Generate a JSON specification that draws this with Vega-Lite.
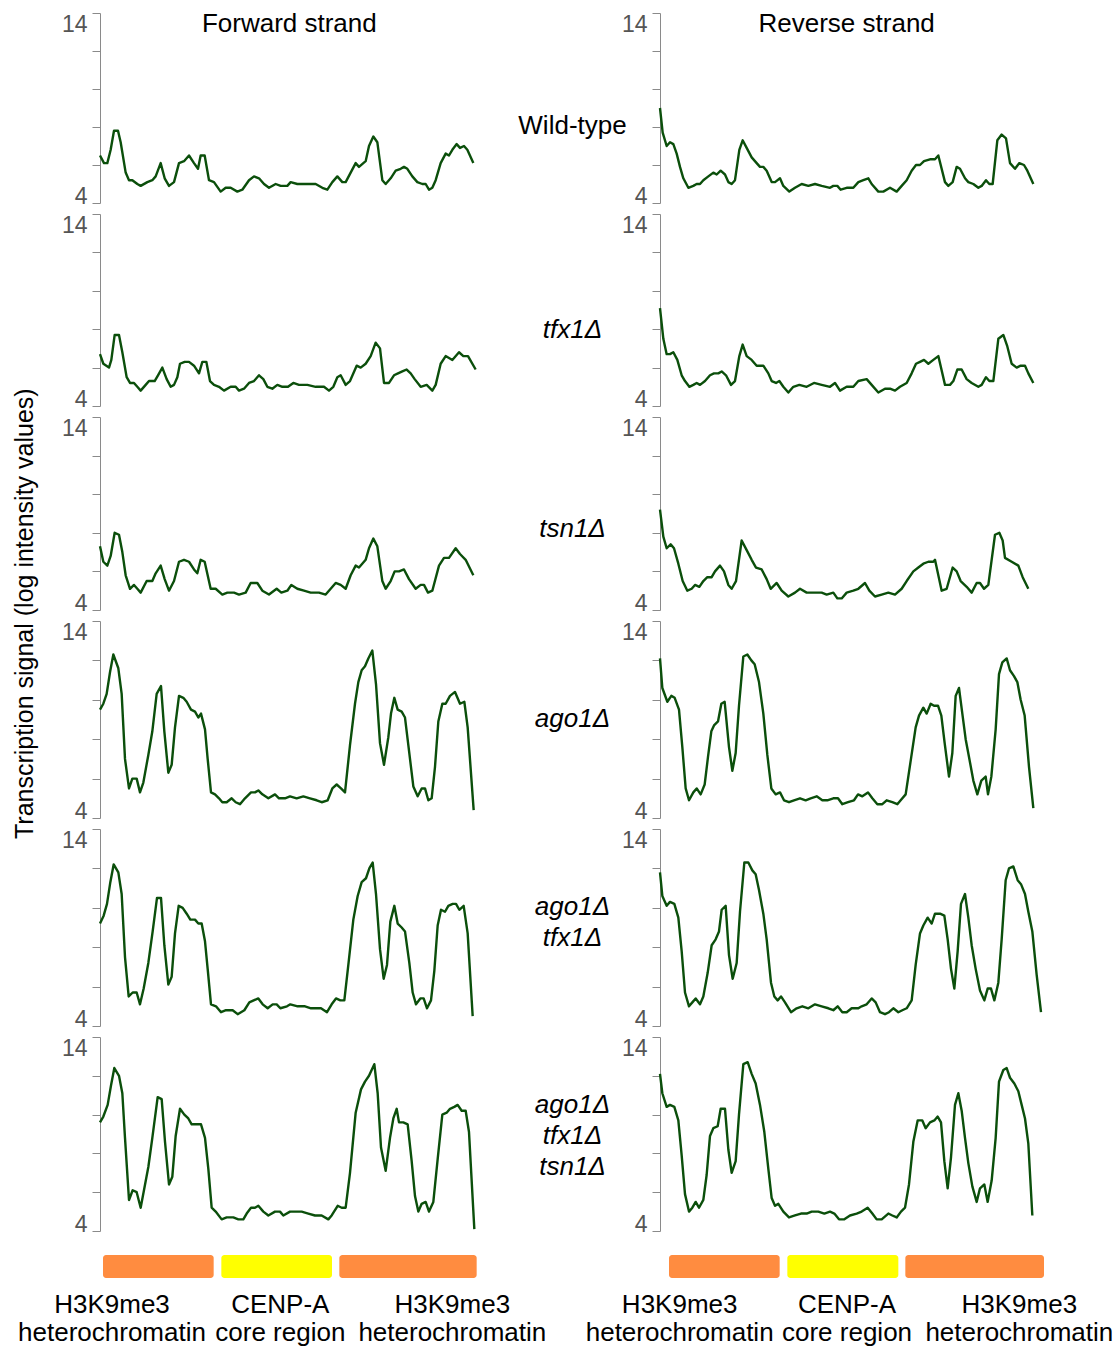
{
  "$schema": "https://vega.github.io/schema/vega-lite/v6.json",
  "background": "white",
  "padding": {"left": 13, "top": 11, "right": 0, "bottom": 0},
  "title": {"text": "Transcription signal (log intensity values)", "orient": "left", "anchor": "middle", "fontSize": 25, "fontWeight": "normal", "color": "black", "offset": -20, "dx": 65},
  "datasets": {
    "F1": [{"x":0,"y":6.5},{"x":12,"y":6.1},{"x":22,"y":6.1},{"x":32,"y":6.8},{"x":42,"y":7.8},{"x":54,"y":7.8},{"x":62,"y":7.2},{"x":77,"y":5.6},{"x":87,"y":5.2},{"x":97,"y":5.2},{"x":112,"y":5.0},{"x":122,"y":4.9},{"x":142,"y":5.1},{"x":157,"y":5.2},{"x":167,"y":5.4},{"x":182,"y":6.1},{"x":194,"y":5.3},{"x":207,"y":4.9},{"x":222,"y":5.1},{"x":237,"y":6.1},{"x":252,"y":6.2},{"x":267,"y":6.5},{"x":282,"y":6.1},{"x":294,"y":5.8},{"x":302,"y":6.5},{"x":314,"y":6.5},{"x":327,"y":5.2},{"x":342,"y":5.1},{"x":362,"y":4.6},{"x":377,"y":4.8},{"x":392,"y":4.8},{"x":412,"y":4.6},{"x":427,"y":4.7},{"x":447,"y":5.2},{"x":462,"y":5.4},{"x":477,"y":5.3},{"x":492,"y":5.0},{"x":507,"y":4.8},{"x":527,"y":5.0},{"x":542,"y":4.9},{"x":562,"y":4.9},{"x":572,"y":5.1},{"x":592,"y":5.0},{"x":622,"y":5.0},{"x":647,"y":5.0},{"x":667,"y":4.8},{"x":682,"y":4.7},{"x":697,"y":5.1},{"x":712,"y":5.4},{"x":727,"y":5.1},{"x":737,"y":5.1},{"x":752,"y":5.6},{"x":767,"y":6.1},{"x":777,"y":5.9},{"x":797,"y":6.2},{"x":807,"y":7.0},{"x":820,"y":7.5},{"x":832,"y":7.2},{"x":847,"y":5.2},{"x":857,"y":5.0},{"x":872,"y":5.3},{"x":887,"y":5.7},{"x":902,"y":5.8},{"x":912,"y":5.9},{"x":922,"y":5.8},{"x":937,"y":5.4},{"x":952,"y":5.1},{"x":967,"y":5.0},{"x":977,"y":5.0},{"x":987,"y":4.7},{"x":997,"y":4.8},{"x":1007,"y":5.2},{"x":1022,"y":6.1},{"x":1037,"y":6.6},{"x":1047,"y":6.5},{"x":1057,"y":6.8},{"x":1070,"y":7.1},{"x":1080,"y":6.9},{"x":1092,"y":7.0},{"x":1102,"y":6.8},{"x":1120,"y":6.1}],
    "R1": [{"x":0,"y":9.0},{"x":8,"y":7.7},{"x":20,"y":7.0},{"x":30,"y":7.2},{"x":40,"y":7.1},{"x":50,"y":6.6},{"x":60,"y":5.9},{"x":70,"y":5.3},{"x":85,"y":4.8},{"x":100,"y":4.9},{"x":110,"y":5.0},{"x":120,"y":5.0},{"x":130,"y":5.2},{"x":145,"y":5.4},{"x":160,"y":5.6},{"x":170,"y":5.5},{"x":182,"y":5.7},{"x":195,"y":5.5},{"x":205,"y":5.1},{"x":215,"y":5.0},{"x":225,"y":5.2},{"x":238,"y":6.8},{"x":248,"y":7.3},{"x":260,"y":6.9},{"x":275,"y":6.4},{"x":290,"y":6.1},{"x":300,"y":5.9},{"x":310,"y":5.9},{"x":320,"y":5.7},{"x":335,"y":5.1},{"x":345,"y":5.1},{"x":360,"y":5.3},{"x":370,"y":4.9},{"x":388,"y":4.6},{"x":405,"y":4.8},{"x":425,"y":5.0},{"x":445,"y":4.9},{"x":465,"y":5.0},{"x":485,"y":4.9},{"x":510,"y":4.8},{"x":520,"y":4.9},{"x":532,"y":4.9},{"x":542,"y":4.7},{"x":560,"y":4.8},{"x":580,"y":4.8},{"x":595,"y":5.1},{"x":610,"y":5.2},{"x":625,"y":5.3},{"x":635,"y":5.0},{"x":655,"y":4.6},{"x":670,"y":4.6},{"x":690,"y":4.8},{"x":710,"y":4.6},{"x":725,"y":4.9},{"x":740,"y":5.2},{"x":755,"y":5.7},{"x":768,"y":6.0},{"x":780,"y":6.0},{"x":792,"y":6.2},{"x":810,"y":6.3},{"x":825,"y":6.3},{"x":835,"y":6.5},{"x":855,"y":5.1},{"x":865,"y":4.9},{"x":878,"y":5.1},{"x":890,"y":5.9},{"x":900,"y":5.8},{"x":915,"y":5.3},{"x":925,"y":5.1},{"x":940,"y":5.0},{"x":955,"y":4.8},{"x":965,"y":4.9},{"x":978,"y":5.2},{"x":988,"y":5.0},{"x":998,"y":5.0},{"x":1012,"y":7.3},{"x":1025,"y":7.6},{"x":1038,"y":7.4},{"x":1050,"y":6.1},{"x":1065,"y":5.8},{"x":1078,"y":6.1},{"x":1092,"y":6.0},{"x":1102,"y":5.7},{"x":1120,"y":5.0}],
    "F2": [{"x":0,"y":6.7},{"x":10,"y":6.2},{"x":27,"y":6.0},{"x":34,"y":6.4},{"x":44,"y":7.7},{"x":57,"y":7.7},{"x":67,"y":6.8},{"x":80,"y":5.5},{"x":90,"y":5.2},{"x":102,"y":5.2},{"x":112,"y":5.0},{"x":122,"y":4.8},{"x":137,"y":5.1},{"x":147,"y":5.3},{"x":164,"y":5.3},{"x":174,"y":5.6},{"x":187,"y":6.0},{"x":200,"y":5.4},{"x":212,"y":5.0},{"x":222,"y":5.1},{"x":232,"y":5.5},{"x":240,"y":6.2},{"x":254,"y":6.3},{"x":267,"y":6.3},{"x":282,"y":6.1},{"x":297,"y":5.7},{"x":307,"y":6.3},{"x":319,"y":6.3},{"x":330,"y":5.3},{"x":342,"y":5.1},{"x":357,"y":5.0},{"x":372,"y":4.8},{"x":392,"y":5.0},{"x":407,"y":5.0},{"x":417,"y":4.8},{"x":432,"y":4.9},{"x":447,"y":5.2},{"x":462,"y":5.3},{"x":477,"y":5.6},{"x":490,"y":5.4},{"x":502,"y":5.0},{"x":517,"y":4.9},{"x":532,"y":5.1},{"x":547,"y":5.0},{"x":564,"y":5.0},{"x":580,"y":5.2},{"x":597,"y":5.1},{"x":622,"y":5.1},{"x":647,"y":5.0},{"x":672,"y":5.0},{"x":687,"y":4.8},{"x":700,"y":5.0},{"x":712,"y":5.5},{"x":722,"y":5.6},{"x":737,"y":5.1},{"x":750,"y":5.3},{"x":770,"y":6.1},{"x":782,"y":6.0},{"x":797,"y":6.2},{"x":812,"y":6.6},{"x":827,"y":7.3},{"x":840,"y":7.0},{"x":852,"y":5.2},{"x":867,"y":5.2},{"x":882,"y":5.6},{"x":894,"y":5.7},{"x":907,"y":5.8},{"x":920,"y":5.9},{"x":932,"y":5.7},{"x":944,"y":5.4},{"x":962,"y":5.0},{"x":980,"y":5.1},{"x":997,"y":4.8},{"x":1007,"y":5.1},{"x":1022,"y":6.2},{"x":1037,"y":6.6},{"x":1057,"y":6.4},{"x":1077,"y":6.8},{"x":1090,"y":6.6},{"x":1104,"y":6.6},{"x":1127,"y":5.9}],
    "R2": [{"x":0,"y":9.1},{"x":10,"y":7.5},{"x":20,"y":6.7},{"x":30,"y":6.7},{"x":40,"y":6.8},{"x":52,"y":6.4},{"x":65,"y":5.6},{"x":75,"y":5.3},{"x":88,"y":5.0},{"x":100,"y":5.1},{"x":110,"y":5.2},{"x":120,"y":5.1},{"x":135,"y":5.3},{"x":150,"y":5.6},{"x":162,"y":5.7},{"x":175,"y":5.7},{"x":185,"y":5.8},{"x":198,"y":5.6},{"x":213,"y":5.1},{"x":225,"y":5.3},{"x":238,"y":6.6},{"x":248,"y":7.2},{"x":260,"y":6.6},{"x":275,"y":6.4},{"x":290,"y":6.1},{"x":310,"y":6.1},{"x":325,"y":5.7},{"x":335,"y":5.3},{"x":348,"y":5.2},{"x":358,"y":5.3},{"x":370,"y":5.0},{"x":385,"y":4.7},{"x":400,"y":5.0},{"x":418,"y":5.1},{"x":440,"y":5.0},{"x":462,"y":5.2},{"x":485,"y":5.1},{"x":510,"y":5.0},{"x":525,"y":5.2},{"x":540,"y":4.8},{"x":560,"y":5.0},{"x":580,"y":5.0},{"x":595,"y":5.3},{"x":620,"y":5.4},{"x":635,"y":5.1},{"x":655,"y":4.7},{"x":675,"y":4.9},{"x":690,"y":4.9},{"x":705,"y":4.8},{"x":720,"y":5.0},{"x":740,"y":5.2},{"x":755,"y":5.7},{"x":768,"y":6.2},{"x":780,"y":6.3},{"x":792,"y":6.4},{"x":805,"y":6.2},{"x":820,"y":6.4},{"x":835,"y":6.6},{"x":855,"y":5.1},{"x":870,"y":5.1},{"x":880,"y":5.3},{"x":892,"y":5.9},{"x":905,"y":5.9},{"x":920,"y":5.4},{"x":935,"y":5.2},{"x":955,"y":5.0},{"x":965,"y":5.1},{"x":978,"y":5.5},{"x":988,"y":5.3},{"x":1000,"y":5.3},{"x":1015,"y":7.5},{"x":1030,"y":7.7},{"x":1042,"y":7.1},{"x":1055,"y":6.2},{"x":1070,"y":6.0},{"x":1082,"y":6.1},{"x":1095,"y":6.1},{"x":1105,"y":5.7},{"x":1120,"y":5.2}],
    "F3": [{"x":0,"y":7.3},{"x":10,"y":6.5},{"x":22,"y":6.3},{"x":32,"y":6.8},{"x":44,"y":8.0},{"x":57,"y":7.9},{"x":67,"y":7.0},{"x":77,"y":5.8},{"x":90,"y":5.1},{"x":102,"y":5.3},{"x":112,"y":5.1},{"x":122,"y":4.9},{"x":140,"y":5.5},{"x":157,"y":5.5},{"x":167,"y":5.9},{"x":182,"y":6.3},{"x":194,"y":5.6},{"x":207,"y":5.0},{"x":222,"y":5.5},{"x":237,"y":6.5},{"x":252,"y":6.6},{"x":267,"y":6.5},{"x":282,"y":6.1},{"x":292,"y":5.9},{"x":302,"y":6.6},{"x":314,"y":6.5},{"x":332,"y":5.1},{"x":347,"y":5.1},{"x":367,"y":4.8},{"x":382,"y":4.9},{"x":402,"y":4.9},{"x":417,"y":4.8},{"x":437,"y":4.9},{"x":452,"y":5.4},{"x":472,"y":5.4},{"x":487,"y":5.0},{"x":507,"y":4.8},{"x":530,"y":5.1},{"x":544,"y":4.9},{"x":562,"y":5.0},{"x":574,"y":5.3},{"x":592,"y":5.1},{"x":612,"y":5.0},{"x":632,"y":4.9},{"x":657,"y":4.9},{"x":677,"y":4.8},{"x":692,"y":5.1},{"x":707,"y":5.4},{"x":722,"y":5.3},{"x":737,"y":5.1},{"x":752,"y":5.8},{"x":767,"y":6.3},{"x":777,"y":6.2},{"x":797,"y":6.6},{"x":807,"y":7.2},{"x":820,"y":7.7},{"x":832,"y":7.3},{"x":847,"y":5.5},{"x":857,"y":5.1},{"x":872,"y":5.5},{"x":884,"y":6.0},{"x":897,"y":6.0},{"x":912,"y":6.1},{"x":927,"y":5.6},{"x":947,"y":5.1},{"x":962,"y":5.3},{"x":972,"y":5.3},{"x":984,"y":4.9},{"x":997,"y":5.0},{"x":1017,"y":6.3},{"x":1032,"y":6.7},{"x":1047,"y":6.7},{"x":1067,"y":7.2},{"x":1080,"y":6.9},{"x":1097,"y":6.6},{"x":1120,"y":5.8}],
    "R3": [{"x":0,"y":9.2},{"x":10,"y":7.8},{"x":20,"y":7.2},{"x":32,"y":7.4},{"x":42,"y":7.2},{"x":55,"y":6.4},{"x":68,"y":5.5},{"x":82,"y":5.0},{"x":95,"y":5.1},{"x":105,"y":5.3},{"x":118,"y":5.2},{"x":130,"y":5.5},{"x":142,"y":5.7},{"x":155,"y":5.7},{"x":165,"y":6.0},{"x":180,"y":6.3},{"x":192,"y":6.0},{"x":205,"y":5.3},{"x":215,"y":5.1},{"x":228,"y":5.5},{"x":245,"y":7.6},{"x":260,"y":7.1},{"x":275,"y":6.6},{"x":288,"y":6.2},{"x":305,"y":6.1},{"x":320,"y":5.6},{"x":332,"y":5.1},{"x":350,"y":5.4},{"x":365,"y":5.0},{"x":385,"y":4.7},{"x":405,"y":4.9},{"x":420,"y":5.1},{"x":440,"y":4.9},{"x":465,"y":4.9},{"x":485,"y":4.9},{"x":500,"y":4.8},{"x":520,"y":4.9},{"x":532,"y":4.6},{"x":545,"y":4.6},{"x":560,"y":4.9},{"x":580,"y":5.0},{"x":595,"y":5.1},{"x":615,"y":5.4},{"x":628,"y":5.0},{"x":645,"y":4.7},{"x":665,"y":4.8},{"x":685,"y":4.9},{"x":705,"y":4.8},{"x":725,"y":5.1},{"x":740,"y":5.5},{"x":760,"y":6.0},{"x":775,"y":6.2},{"x":790,"y":6.4},{"x":805,"y":6.5},{"x":820,"y":6.5},{"x":825,"y":6.6},{"x":845,"y":5.0},{"x":860,"y":5.1},{"x":878,"y":6.2},{"x":890,"y":6.0},{"x":902,"y":5.5},{"x":920,"y":5.2},{"x":935,"y":4.9},{"x":950,"y":5.4},{"x":960,"y":5.4},{"x":972,"y":5.1},{"x":985,"y":5.3},{"x":1005,"y":7.9},{"x":1018,"y":8.0},{"x":1028,"y":7.6},{"x":1035,"y":6.7},{"x":1055,"y":6.5},{"x":1075,"y":6.3},{"x":1088,"y":5.7},{"x":1105,"y":5.1}],
    "F4": [{"x":0,"y":9.5},{"x":10,"y":9.8},{"x":20,"y":10.3},{"x":30,"y":11.4},{"x":40,"y":12.3},{"x":55,"y":11.6},{"x":65,"y":10.3},{"x":75,"y":7.0},{"x":87,"y":5.5},{"x":97,"y":6.0},{"x":110,"y":6.0},{"x":120,"y":5.3},{"x":130,"y":5.8},{"x":145,"y":7.2},{"x":157,"y":8.4},{"x":170,"y":10.3},{"x":183,"y":10.7},{"x":193,"y":8.4},{"x":205,"y":6.3},{"x":215,"y":6.7},{"x":225,"y":8.6},{"x":237,"y":10.2},{"x":250,"y":10.1},{"x":260,"y":9.9},{"x":273,"y":9.5},{"x":285,"y":9.4},{"x":295,"y":9.1},{"x":303,"y":9.3},{"x":315,"y":8.5},{"x":323,"y":7.0},{"x":333,"y":5.3},{"x":345,"y":5.2},{"x":357,"y":5.0},{"x":367,"y":4.8},{"x":380,"y":4.8},{"x":395,"y":5.0},{"x":407,"y":4.8},{"x":420,"y":4.7},{"x":435,"y":5.0},{"x":453,"y":5.3},{"x":465,"y":5.3},{"x":475,"y":5.4},{"x":487,"y":5.2},{"x":505,"y":5.0},{"x":525,"y":5.2},{"x":537,"y":5.0},{"x":555,"y":5.0},{"x":570,"y":5.1},{"x":590,"y":5.0},{"x":610,"y":5.1},{"x":630,"y":5.0},{"x":650,"y":4.9},{"x":665,"y":4.8},{"x":683,"y":4.9},{"x":697,"y":5.5},{"x":710,"y":5.7},{"x":723,"y":5.5},{"x":735,"y":5.3},{"x":750,"y":7.7},{"x":765,"y":9.8},{"x":775,"y":10.9},{"x":785,"y":11.5},{"x":795,"y":11.7},{"x":805,"y":12.1},{"x":817,"y":12.5},{"x":828,"y":10.8},{"x":840,"y":7.8},{"x":852,"y":6.7},{"x":865,"y":8.1},{"x":873,"y":9.3},{"x":883,"y":10.1},{"x":893,"y":9.5},{"x":905,"y":9.4},{"x":915,"y":9.1},{"x":925,"y":7.7},{"x":940,"y":5.6},{"x":953,"y":5.1},{"x":965,"y":5.5},{"x":975,"y":5.5},{"x":985,"y":4.9},{"x":995,"y":5.0},{"x":1005,"y":6.6},{"x":1015,"y":8.9},{"x":1027,"y":9.8},{"x":1037,"y":9.8},{"x":1050,"y":10.2},{"x":1065,"y":10.4},{"x":1080,"y":9.8},{"x":1093,"y":9.9},{"x":1103,"y":8.6},{"x":1121,"y":4.4}],
    "R4": [{"x":0,"y":12.1},{"x":7,"y":10.6},{"x":22,"y":9.9},{"x":34,"y":10.2},{"x":44,"y":10.1},{"x":57,"y":9.5},{"x":67,"y":7.6},{"x":77,"y":5.5},{"x":87,"y":4.9},{"x":100,"y":5.3},{"x":110,"y":5.5},{"x":122,"y":5.2},{"x":134,"y":5.7},{"x":144,"y":7.1},{"x":154,"y":8.4},{"x":162,"y":8.7},{"x":174,"y":8.9},{"x":184,"y":9.8},{"x":194,"y":9.9},{"x":207,"y":7.6},{"x":217,"y":6.4},{"x":227,"y":7.3},{"x":237,"y":9.7},{"x":250,"y":12.2},{"x":262,"y":12.3},{"x":274,"y":12.0},{"x":284,"y":11.8},{"x":297,"y":10.9},{"x":310,"y":9.3},{"x":322,"y":7.2},{"x":334,"y":5.5},{"x":347,"y":5.2},{"x":360,"y":5.3},{"x":372,"y":4.9},{"x":387,"y":4.8},{"x":402,"y":4.9},{"x":420,"y":5.0},{"x":437,"y":4.9},{"x":452,"y":5.0},{"x":470,"y":5.1},{"x":487,"y":4.9},{"x":502,"y":4.9},{"x":520,"y":5.0},{"x":534,"y":5.0},{"x":547,"y":4.7},{"x":564,"y":4.8},{"x":582,"y":4.9},{"x":594,"y":5.2},{"x":607,"y":5.1},{"x":624,"y":5.3},{"x":637,"y":5.0},{"x":652,"y":4.7},{"x":667,"y":4.7},{"x":680,"y":4.9},{"x":697,"y":4.8},{"x":712,"y":4.7},{"x":722,"y":4.9},{"x":737,"y":5.2},{"x":752,"y":6.9},{"x":767,"y":8.6},{"x":777,"y":9.2},{"x":790,"y":9.6},{"x":800,"y":9.3},{"x":812,"y":9.8},{"x":822,"y":9.7},{"x":834,"y":9.7},{"x":844,"y":9.2},{"x":854,"y":7.8},{"x":867,"y":6.1},{"x":877,"y":7.3},{"x":887,"y":10.2},{"x":897,"y":10.6},{"x":907,"y":9.3},{"x":917,"y":8.0},{"x":927,"y":7.1},{"x":940,"y":5.9},{"x":952,"y":5.2},{"x":964,"y":5.9},{"x":977,"y":6.1},{"x":984,"y":5.2},{"x":994,"y":6.1},{"x":1007,"y":8.5},{"x":1017,"y":11.3},{"x":1027,"y":11.9},{"x":1040,"y":12.1},{"x":1050,"y":11.5},{"x":1062,"y":11.2},{"x":1072,"y":10.9},{"x":1082,"y":10.0},{"x":1094,"y":9.2},{"x":1107,"y":6.6},{"x":1120,"y":4.5}],
    "F5": [{"x":0,"y":9.2},{"x":11,"y":9.6},{"x":21,"y":10.2},{"x":31,"y":11.3},{"x":41,"y":12.2},{"x":55,"y":11.8},{"x":65,"y":10.7},{"x":75,"y":7.5},{"x":86,"y":5.5},{"x":98,"y":5.7},{"x":110,"y":5.7},{"x":120,"y":5.1},{"x":131,"y":5.9},{"x":145,"y":7.2},{"x":158,"y":8.8},{"x":171,"y":10.5},{"x":183,"y":10.5},{"x":193,"y":8.1},{"x":205,"y":6.1},{"x":215,"y":6.5},{"x":225,"y":8.7},{"x":236,"y":10.1},{"x":248,"y":10.0},{"x":260,"y":9.7},{"x":271,"y":9.4},{"x":285,"y":9.4},{"x":295,"y":9.2},{"x":305,"y":9.2},{"x":315,"y":8.3},{"x":323,"y":6.9},{"x":333,"y":5.1},{"x":348,"y":5.0},{"x":363,"y":4.7},{"x":378,"y":4.8},{"x":398,"y":4.8},{"x":413,"y":4.6},{"x":433,"y":4.8},{"x":448,"y":5.2},{"x":461,"y":5.3},{"x":475,"y":5.4},{"x":488,"y":5.1},{"x":503,"y":4.9},{"x":518,"y":5.1},{"x":530,"y":5.1},{"x":541,"y":4.9},{"x":561,"y":5.0},{"x":571,"y":5.1},{"x":593,"y":5.0},{"x":615,"y":5.0},{"x":633,"y":4.9},{"x":648,"y":4.9},{"x":663,"y":4.9},{"x":681,"y":4.7},{"x":695,"y":5.1},{"x":708,"y":5.4},{"x":721,"y":5.3},{"x":733,"y":5.3},{"x":745,"y":7.1},{"x":760,"y":9.4},{"x":773,"y":10.6},{"x":785,"y":11.3},{"x":798,"y":11.5},{"x":808,"y":12.0},{"x":818,"y":12.3},{"x":828,"y":10.7},{"x":840,"y":7.9},{"x":851,"y":6.4},{"x":861,"y":7.1},{"x":871,"y":9.3},{"x":883,"y":10.1},{"x":893,"y":9.2},{"x":905,"y":9.0},{"x":915,"y":8.8},{"x":928,"y":7.2},{"x":938,"y":5.7},{"x":948,"y":5.1},{"x":961,"y":5.4},{"x":971,"y":5.4},{"x":981,"y":4.9},{"x":993,"y":5.3},{"x":1003,"y":6.8},{"x":1013,"y":9.1},{"x":1023,"y":9.9},{"x":1035,"y":9.8},{"x":1045,"y":10.1},{"x":1058,"y":10.2},{"x":1068,"y":10.2},{"x":1078,"y":9.9},{"x":1091,"y":10.1},{"x":1103,"y":8.7},{"x":1118,"y":4.5}],
    "R5": [{"x":0,"y":11.8},{"x":7,"y":10.6},{"x":20,"y":10.1},{"x":30,"y":10.3},{"x":43,"y":10.2},{"x":55,"y":9.5},{"x":65,"y":7.8},{"x":75,"y":5.7},{"x":87,"y":5.0},{"x":97,"y":5.2},{"x":107,"y":5.4},{"x":120,"y":5.1},{"x":130,"y":5.5},{"x":143,"y":6.7},{"x":155,"y":8.1},{"x":167,"y":8.4},{"x":177,"y":8.8},{"x":185,"y":9.9},{"x":197,"y":10.1},{"x":207,"y":7.6},{"x":218,"y":6.4},{"x":230,"y":7.2},{"x":240,"y":9.8},{"x":253,"y":12.3},{"x":265,"y":12.3},{"x":277,"y":11.9},{"x":287,"y":11.7},{"x":297,"y":10.9},{"x":310,"y":9.7},{"x":320,"y":8.4},{"x":333,"y":6.2},{"x":343,"y":5.5},{"x":353,"y":5.3},{"x":363,"y":5.5},{"x":375,"y":5.2},{"x":393,"y":4.7},{"x":410,"y":4.9},{"x":427,"y":5.0},{"x":445,"y":4.9},{"x":465,"y":5.1},{"x":485,"y":5.0},{"x":505,"y":4.9},{"x":520,"y":4.8},{"x":533,"y":5.0},{"x":547,"y":4.7},{"x":560,"y":4.7},{"x":575,"y":4.9},{"x":595,"y":4.9},{"x":605,"y":5.0},{"x":620,"y":5.1},{"x":635,"y":5.4},{"x":647,"y":5.2},{"x":660,"y":4.7},{"x":675,"y":4.6},{"x":687,"y":4.7},{"x":700,"y":4.9},{"x":715,"y":4.7},{"x":727,"y":4.8},{"x":740,"y":4.9},{"x":755,"y":5.3},{"x":767,"y":7.1},{"x":780,"y":8.7},{"x":790,"y":9.1},{"x":803,"y":9.5},{"x":815,"y":9.2},{"x":825,"y":9.7},{"x":840,"y":9.7},{"x":853,"y":9.6},{"x":863,"y":8.4},{"x":873,"y":6.9},{"x":883,"y":5.9},{"x":893,"y":7.8},{"x":903,"y":10.2},{"x":915,"y":10.7},{"x":925,"y":9.5},{"x":935,"y":8.1},{"x":947,"y":6.9},{"x":960,"y":5.8},{"x":973,"y":5.3},{"x":983,"y":5.9},{"x":993,"y":5.9},{"x":1003,"y":5.3},{"x":1015,"y":6.2},{"x":1025,"y":8.4},{"x":1037,"y":11.4},{"x":1047,"y":12.0},{"x":1060,"y":12.1},{"x":1073,"y":11.4},{"x":1083,"y":11.2},{"x":1095,"y":10.7},{"x":1105,"y":9.8},{"x":1117,"y":8.8},{"x":1130,"y":6.6},{"x":1143,"y":4.7}],
    "F6": [{"x":0,"y":9.6},{"x":10,"y":9.9},{"x":23,"y":10.5},{"x":33,"y":11.5},{"x":43,"y":12.4},{"x":57,"y":12.0},{"x":67,"y":11.1},{"x":75,"y":8.8},{"x":87,"y":5.6},{"x":98,"y":6.1},{"x":110,"y":6.0},{"x":122,"y":5.2},{"x":133,"y":6.2},{"x":145,"y":7.3},{"x":157,"y":8.8},{"x":173,"y":10.9},{"x":185,"y":10.8},{"x":195,"y":8.6},{"x":207,"y":6.4},{"x":217,"y":6.8},{"x":227,"y":8.9},{"x":240,"y":10.3},{"x":253,"y":10.0},{"x":265,"y":9.8},{"x":275,"y":9.5},{"x":287,"y":9.5},{"x":303,"y":9.5},{"x":315,"y":8.8},{"x":325,"y":7.2},{"x":335,"y":5.2},{"x":347,"y":5.0},{"x":365,"y":4.6},{"x":380,"y":4.7},{"x":400,"y":4.7},{"x":415,"y":4.6},{"x":430,"y":4.6},{"x":440,"y":4.9},{"x":453,"y":5.2},{"x":465,"y":5.2},{"x":475,"y":5.3},{"x":490,"y":5.0},{"x":505,"y":4.8},{"x":525,"y":5.0},{"x":540,"y":5.0},{"x":550,"y":4.8},{"x":570,"y":5.0},{"x":580,"y":5.0},{"x":605,"y":5.0},{"x":625,"y":4.9},{"x":645,"y":4.8},{"x":665,"y":4.8},{"x":685,"y":4.6},{"x":695,"y":4.8},{"x":713,"y":5.3},{"x":725,"y":5.2},{"x":737,"y":5.2},{"x":750,"y":7.0},{"x":767,"y":10.1},{"x":783,"y":11.3},{"x":795,"y":11.7},{"x":807,"y":12.0},{"x":823,"y":12.6},{"x":833,"y":11.1},{"x":843,"y":8.3},{"x":857,"y":7.1},{"x":870,"y":8.8},{"x":880,"y":9.8},{"x":890,"y":10.3},{"x":897,"y":9.6},{"x":910,"y":9.6},{"x":923,"y":9.5},{"x":935,"y":7.6},{"x":945,"y":5.8},{"x":955,"y":5.0},{"x":965,"y":5.4},{"x":977,"y":5.5},{"x":987,"y":5.0},{"x":1000,"y":5.5},{"x":1013,"y":7.7},{"x":1027,"y":10.0},{"x":1040,"y":10.1},{"x":1050,"y":10.3},{"x":1063,"y":10.4},{"x":1073,"y":10.5},{"x":1085,"y":10.2},{"x":1097,"y":10.2},{"x":1107,"y":9.1},{"x":1123,"y":4.1}],
    "R6": [{"x":0,"y":12.1},{"x":7,"y":11.1},{"x":20,"y":10.4},{"x":30,"y":10.5},{"x":43,"y":10.4},{"x":55,"y":9.7},{"x":65,"y":7.9},{"x":75,"y":5.9},{"x":87,"y":5.0},{"x":97,"y":5.2},{"x":107,"y":5.5},{"x":117,"y":5.2},{"x":130,"y":5.6},{"x":140,"y":6.9},{"x":150,"y":8.9},{"x":160,"y":9.3},{"x":173,"y":9.4},{"x":182,"y":10.3},{"x":195,"y":10.3},{"x":205,"y":8.2},{"x":215,"y":7.0},{"x":227,"y":7.6},{"x":237,"y":10.0},{"x":250,"y":12.6},{"x":263,"y":12.7},{"x":275,"y":12.1},{"x":287,"y":11.6},{"x":300,"y":10.5},{"x":313,"y":9.1},{"x":325,"y":7.2},{"x":335,"y":5.7},{"x":345,"y":5.3},{"x":355,"y":5.4},{"x":370,"y":5.0},{"x":387,"y":4.7},{"x":405,"y":4.8},{"x":423,"y":4.9},{"x":440,"y":4.9},{"x":455,"y":5.0},{"x":475,"y":5.0},{"x":493,"y":4.9},{"x":510,"y":5.0},{"x":523,"y":4.9},{"x":537,"y":4.6},{"x":553,"y":4.6},{"x":570,"y":4.8},{"x":590,"y":4.9},{"x":605,"y":5.0},{"x":623,"y":5.2},{"x":637,"y":4.9},{"x":650,"y":4.6},{"x":665,"y":4.6},{"x":685,"y":4.9},{"x":697,"y":4.8},{"x":710,"y":4.7},{"x":723,"y":5.0},{"x":735,"y":5.2},{"x":747,"y":6.4},{"x":760,"y":8.6},{"x":773,"y":9.7},{"x":787,"y":9.7},{"x":797,"y":9.3},{"x":810,"y":9.6},{"x":823,"y":9.7},{"x":833,"y":9.9},{"x":843,"y":9.6},{"x":853,"y":7.6},{"x":863,"y":6.2},{"x":873,"y":7.8},{"x":885,"y":10.5},{"x":895,"y":11.1},{"x":905,"y":10.2},{"x":915,"y":8.8},{"x":925,"y":7.5},{"x":937,"y":6.3},{"x":950,"y":5.5},{"x":960,"y":6.2},{"x":973,"y":6.4},{"x":983,"y":5.5},{"x":995,"y":6.6},{"x":1007,"y":8.8},{"x":1017,"y":11.7},{"x":1030,"y":12.3},{"x":1040,"y":12.4},{"x":1050,"y":11.9},{"x":1063,"y":11.6},{"x":1075,"y":11.2},{"x":1085,"y":10.5},{"x":1095,"y":9.8},{"x":1105,"y":8.5},{"x":1117,"y":4.8}],
    "strands": [
      {"strand": "F", "name": "Forward strand", "at": 568},
      {"strand": "R", "name": "Reverse strand", "at": 560}
    ],
    "genotypes": [
      {"row": 1, "label": "Wild-type"},
      {"row": 2, "label": "tfx1Δ"},
      {"row": 3, "label": "tsn1Δ"},
      {"row": 4, "label": "ago1Δ"},
      {"row": 5, "label": "ago1Δ\ntfx1Δ"},
      {"row": 6, "label": "ago1Δ\ntfx1Δ\ntsn1Δ"}
    ],
    "regions": [
      {"strand": "F", "region": "H3K9me3", "label": "H3K9me3\nheterochromatin", "start": 9, "end": 341, "labelAt": 36},
      {"strand": "F", "region": "CENP-A", "label": "CENP-A\ncore region", "start": 364, "end": 696, "labelAt": 541},
      {"strand": "F", "region": "H3K9me3", "label": "H3K9me3\nheterochromatin", "start": 718, "end": 1130, "labelAt": 1057},
      {"strand": "R", "region": "H3K9me3", "label": "H3K9me3\nheterochromatin", "start": 27, "end": 359, "labelAt": 59},
      {"strand": "R", "region": "CENP-A", "label": "CENP-A\ncore region", "start": 382, "end": 715, "labelAt": 561},
      {"strand": "R", "region": "H3K9me3", "label": "H3K9me3\nheterochromatin", "start": 736, "end": 1152, "labelAt": 1078}
    ]
  },
  "columns": 3,
  "align": "each",
  "bounds": "flush",
  "spacing": {"row": 11, "column": 20},
  "concat": [
    {"width": 385, "height": 190, "layer": [
      {"data": {"name": "F1"}, "mark": {"type": "line", "color": "#0b4f0b", "strokeWidth": 2.4, "strokeJoin": "round"},
       "encoding": {"x": {"field": "x", "type": "quantitative", "scale": {"domain": [0, 1155], "nice": false}, "axis": null},
                    "y": {"field": "y", "type": "quantitative", "scale": {"domain": [4, 14], "nice": false}, "axis": {"values": [4, 6, 8, 10, 12, 14], "title": null, "labelOverlap": false, "labelExpr": "datum.value == 4 || datum.value == 14 ? datum.label : ''", "labelBaseline": {"condition": {"test": "datum.value == 14", "value": "top"}, "value": "alphabetic"}}}}},
      {"data": {"name": "strands"}, "transform": [{"filter": "datum.strand == 'F'"}],
       "mark": {"type": "text", "fontSize": 26, "baseline": "alphabetic", "align": "center", "color": "black"},
       "encoding": {"x": {"field": "at", "type": "quantitative", "axis": null},
                    "y": {"datum": 12.98, "type": "quantitative", "axis": {"values": [4, 6, 8, 10, 12, 14], "title": null, "labelOverlap": false, "labelExpr": "datum.value == 4 || datum.value == 14 ? datum.label : ''", "labelBaseline": {"condition": {"test": "datum.value == 14", "value": "top"}, "value": "alphabetic"}}},
                    "text": {"field": "name"}}}
    ]},
    {"width": 135, "height": 190, "data": {"name": "genotypes"}, "transform": [{"filter": "datum.row == 1"}],
     "mark": {"type": "text", "fontSize": 26, "fontStyle": "normal", "lineBreak": "\n", "lineHeight": 31, "baseline": "middle", "color": "black"},
     "encoding": {"y": {"datum": 8.05, "type": "quantitative", "scale": {"domain": [4, 14], "nice": false}, "axis": null}, "text": {"field": "label"}}},
    {"width": 385, "height": 190, "layer": [
      {"data": {"name": "R1"}, "mark": {"type": "line", "color": "#0b4f0b", "strokeWidth": 2.4, "strokeJoin": "round"},
       "encoding": {"x": {"field": "x", "type": "quantitative", "scale": {"domain": [0, 1155], "nice": false}, "axis": null},
                    "y": {"field": "y", "type": "quantitative", "scale": {"domain": [4, 14], "nice": false}, "axis": {"values": [4, 6, 8, 10, 12, 14], "title": null, "labelOverlap": false, "labelExpr": "datum.value == 4 || datum.value == 14 ? datum.label : ''", "labelBaseline": {"condition": {"test": "datum.value == 14", "value": "top"}, "value": "alphabetic"}}}}},
      {"data": {"name": "strands"}, "transform": [{"filter": "datum.strand == 'R'"}],
       "mark": {"type": "text", "fontSize": 26, "baseline": "alphabetic", "align": "center", "color": "black"},
       "encoding": {"x": {"field": "at", "type": "quantitative", "axis": null},
                    "y": {"datum": 12.98, "type": "quantitative", "axis": {"values": [4, 6, 8, 10, 12, 14], "title": null, "labelOverlap": false, "labelExpr": "datum.value == 4 || datum.value == 14 ? datum.label : ''", "labelBaseline": {"condition": {"test": "datum.value == 14", "value": "top"}, "value": "alphabetic"}}},
                    "text": {"field": "name"}}}
    ]},

    {"width": 385, "height": 192, "data": {"name": "F2"}, "mark": {"type": "line", "color": "#0b4f0b", "strokeWidth": 2.4, "strokeJoin": "round"},
     "encoding": {"x": {"field": "x", "type": "quantitative", "scale": {"domain": [0, 1155], "nice": false}, "axis": null},
                  "y": {"field": "y", "type": "quantitative", "scale": {"domain": [4, 14], "nice": false}, "axis": {"values": [4, 6, 8, 10, 12, 14], "title": null, "labelOverlap": false, "labelExpr": "datum.value == 4 || datum.value == 14 ? datum.label : ''", "labelBaseline": {"condition": {"test": "datum.value == 14", "value": "top"}, "value": "alphabetic"}}}}},
    {"width": 135, "height": 192, "data": {"name": "genotypes"}, "transform": [{"filter": "datum.row == 2"}],
     "mark": {"type": "text", "fontSize": 26, "fontStyle": "italic", "lineBreak": "\n", "lineHeight": 31, "baseline": "middle", "color": "black"},
     "encoding": {"y": {"datum": 7.96, "type": "quantitative", "scale": {"domain": [4, 14], "nice": false}, "axis": null}, "text": {"field": "label"}}},
    {"width": 385, "height": 192, "data": {"name": "R2"}, "mark": {"type": "line", "color": "#0b4f0b", "strokeWidth": 2.4, "strokeJoin": "round"},
     "encoding": {"x": {"field": "x", "type": "quantitative", "scale": {"domain": [0, 1155], "nice": false}, "axis": null},
                  "y": {"field": "y", "type": "quantitative", "scale": {"domain": [4, 14], "nice": false}, "axis": {"values": [4, 6, 8, 10, 12, 14], "title": null, "labelOverlap": false, "labelExpr": "datum.value == 4 || datum.value == 14 ? datum.label : ''", "labelBaseline": {"condition": {"test": "datum.value == 14", "value": "top"}, "value": "alphabetic"}}}}},

    {"width": 385, "height": 193, "data": {"name": "F3"}, "mark": {"type": "line", "color": "#0b4f0b", "strokeWidth": 2.4, "strokeJoin": "round"},
     "encoding": {"x": {"field": "x", "type": "quantitative", "scale": {"domain": [0, 1155], "nice": false}, "axis": null},
                  "y": {"field": "y", "type": "quantitative", "scale": {"domain": [4, 14], "nice": false}, "axis": {"values": [4, 6, 8, 10, 12, 14], "title": null, "labelOverlap": false, "labelExpr": "datum.value == 4 || datum.value == 14 ? datum.label : ''", "labelBaseline": {"condition": {"test": "datum.value == 14", "value": "top"}, "value": "alphabetic"}}}}},
    {"width": 135, "height": 193, "data": {"name": "genotypes"}, "transform": [{"filter": "datum.row == 3"}],
     "mark": {"type": "text", "fontSize": 26, "fontStyle": "italic", "lineBreak": "\n", "lineHeight": 31, "baseline": "middle", "color": "black"},
     "encoding": {"y": {"datum": 8.2, "type": "quantitative", "scale": {"domain": [4, 14], "nice": false}, "axis": null}, "text": {"field": "label"}}},
    {"width": 385, "height": 193, "data": {"name": "R3"}, "mark": {"type": "line", "color": "#0b4f0b", "strokeWidth": 2.4, "strokeJoin": "round"},
     "encoding": {"x": {"field": "x", "type": "quantitative", "scale": {"domain": [0, 1155], "nice": false}, "axis": null},
                  "y": {"field": "y", "type": "quantitative", "scale": {"domain": [4, 14], "nice": false}, "axis": {"values": [4, 6, 8, 10, 12, 14], "title": null, "labelOverlap": false, "labelExpr": "datum.value == 4 || datum.value == 14 ? datum.label : ''", "labelBaseline": {"condition": {"test": "datum.value == 14", "value": "top"}, "value": "alphabetic"}}}}},

    {"width": 385, "height": 197, "data": {"name": "F4"}, "mark": {"type": "line", "color": "#0b4f0b", "strokeWidth": 2.4, "strokeJoin": "round"},
     "encoding": {"x": {"field": "x", "type": "quantitative", "scale": {"domain": [0, 1155], "nice": false}, "axis": null},
                  "y": {"field": "y", "type": "quantitative", "scale": {"domain": [4, 14], "nice": false}, "axis": {"values": [4, 6, 8, 10, 12, 14], "title": null, "labelOverlap": false, "labelExpr": "datum.value == 4 || datum.value == 14 ? datum.label : ''", "labelBaseline": {"condition": {"test": "datum.value == 14", "value": "top"}, "value": "alphabetic"}}}}},
    {"width": 135, "height": 197, "data": {"name": "genotypes"}, "transform": [{"filter": "datum.row == 4"}],
     "mark": {"type": "text", "fontSize": 26, "fontStyle": "italic", "lineBreak": "\n", "lineHeight": 31, "baseline": "middle", "color": "black"},
     "encoding": {"y": {"datum": 9.03, "type": "quantitative", "scale": {"domain": [4, 14], "nice": false}, "axis": null}, "text": {"field": "label"}}},
    {"width": 385, "height": 197, "data": {"name": "R4"}, "mark": {"type": "line", "color": "#0b4f0b", "strokeWidth": 2.4, "strokeJoin": "round"},
     "encoding": {"x": {"field": "x", "type": "quantitative", "scale": {"domain": [0, 1155], "nice": false}, "axis": null},
                  "y": {"field": "y", "type": "quantitative", "scale": {"domain": [4, 14], "nice": false}, "axis": {"values": [4, 6, 8, 10, 12, 14], "title": null, "labelOverlap": false, "labelExpr": "datum.value == 4 || datum.value == 14 ? datum.label : ''", "labelBaseline": {"condition": {"test": "datum.value == 14", "value": "top"}, "value": "alphabetic"}}}}},

    {"width": 385, "height": 197, "data": {"name": "F5"}, "mark": {"type": "line", "color": "#0b4f0b", "strokeWidth": 2.4, "strokeJoin": "round"},
     "encoding": {"x": {"field": "x", "type": "quantitative", "scale": {"domain": [0, 1155], "nice": false}, "axis": null},
                  "y": {"field": "y", "type": "quantitative", "scale": {"domain": [4, 14], "nice": false}, "axis": {"values": [4, 6, 8, 10, 12, 14], "title": null, "labelOverlap": false, "labelExpr": "datum.value == 4 || datum.value == 14 ? datum.label : ''", "labelBaseline": {"condition": {"test": "datum.value == 14", "value": "top"}, "value": "alphabetic"}}}}},
    {"width": 135, "height": 197, "data": {"name": "genotypes"}, "transform": [{"filter": "datum.row == 5"}],
     "mark": {"type": "text", "fontSize": 26, "fontStyle": "italic", "lineBreak": "\n", "lineHeight": 31, "baseline": "middle", "color": "black"},
     "encoding": {"y": {"datum": 10.04, "type": "quantitative", "scale": {"domain": [4, 14], "nice": false}, "axis": null}, "text": {"field": "label"}}},
    {"width": 385, "height": 197, "data": {"name": "R5"}, "mark": {"type": "line", "color": "#0b4f0b", "strokeWidth": 2.4, "strokeJoin": "round"},
     "encoding": {"x": {"field": "x", "type": "quantitative", "scale": {"domain": [0, 1155], "nice": false}, "axis": null},
                  "y": {"field": "y", "type": "quantitative", "scale": {"domain": [4, 14], "nice": false}, "axis": {"values": [4, 6, 8, 10, 12, 14], "title": null, "labelOverlap": false, "labelExpr": "datum.value == 4 || datum.value == 14 ? datum.label : ''", "labelBaseline": {"condition": {"test": "datum.value == 14", "value": "top"}, "value": "alphabetic"}}}}},

    {"width": 385, "height": 194, "data": {"name": "F6"}, "mark": {"type": "line", "color": "#0b4f0b", "strokeWidth": 2.4, "strokeJoin": "round"},
     "encoding": {"x": {"field": "x", "type": "quantitative", "scale": {"domain": [0, 1155], "nice": false}, "axis": null},
                  "y": {"field": "y", "type": "quantitative", "scale": {"domain": [4, 14], "nice": false}, "axis": {"values": [4, 6, 8, 10, 12, 14], "title": null, "labelOverlap": false, "labelExpr": "datum.value == 4 || datum.value == 14 ? datum.label : ''", "labelBaseline": {"condition": {"test": "datum.value == 14", "value": "top"}, "value": "alphabetic"}}}}},
    {"width": 135, "height": 194, "data": {"name": "genotypes"}, "transform": [{"filter": "datum.row == 6"}],
     "mark": {"type": "text", "fontSize": 26, "fontStyle": "italic", "lineBreak": "\n", "lineHeight": 31, "baseline": "middle", "color": "black"},
     "encoding": {"y": {"datum": 10.49, "type": "quantitative", "scale": {"domain": [4, 14], "nice": false}, "axis": null}, "text": {"field": "label"}}},
    {"width": 385, "height": 194, "data": {"name": "R6"}, "mark": {"type": "line", "color": "#0b4f0b", "strokeWidth": 2.4, "strokeJoin": "round"},
     "encoding": {"x": {"field": "x", "type": "quantitative", "scale": {"domain": [0, 1155], "nice": false}, "axis": null},
                  "y": {"field": "y", "type": "quantitative", "scale": {"domain": [4, 14], "nice": false}, "axis": {"values": [4, 6, 8, 10, 12, 14], "title": null, "labelOverlap": false, "labelExpr": "datum.value == 4 || datum.value == 14 ? datum.label : ''", "labelBaseline": {"condition": {"test": "datum.value == 14", "value": "top"}, "value": "alphabetic"}}}}},

    {"width": 385, "height": 92, "layer": [
      {"data": {"name": "regions"}, "transform": [{"filter": "datum.strand == 'F'"}],
       "mark": {"type": "rect", "cornerRadius": 3},
       "encoding": {"x": {"field": "start", "type": "quantitative", "scale": {"domain": [0, 1155], "nice": false}, "axis": null},
                    "x2": {"field": "end"},
                    "y": {"datum": 79, "type": "quantitative", "scale": {"domain": [0, 92], "nice": false}, "axis": null},
                    "y2": {"datum": 56},
                    "color": {"field": "region", "type": "nominal", "scale": {"domain": ["H3K9me3", "CENP-A"], "range": ["#FF8C40", "#FFFF00"]}, "legend": null}}},
      {"data": {"name": "regions"}, "transform": [{"filter": "datum.strand == 'F'"}],
       "mark": {"type": "text", "fontSize": 26, "lineBreak": "\n", "lineHeight": 28, "baseline": "middle", "align": "center", "color": "black"},
       "encoding": {"x": {"field": "labelAt", "type": "quantitative"}, "y": {"datum": 29, "type": "quantitative"}, "text": {"field": "label"}}}
    ]},
    {"width": 135, "height": 92, "data": {"values": []}, "mark": {"type": "text", "text": ""}},
    {"width": 385, "height": 92, "layer": [
      {"data": {"name": "regions"}, "transform": [{"filter": "datum.strand == 'R'"}],
       "mark": {"type": "rect", "cornerRadius": 3},
       "encoding": {"x": {"field": "start", "type": "quantitative", "scale": {"domain": [0, 1155], "nice": false}, "axis": null},
                    "x2": {"field": "end"},
                    "y": {"datum": 79, "type": "quantitative", "scale": {"domain": [0, 92], "nice": false}, "axis": null},
                    "y2": {"datum": 56},
                    "color": {"field": "region", "type": "nominal", "scale": {"domain": ["H3K9me3", "CENP-A"], "range": ["#FF8C40", "#FFFF00"]}, "legend": null}}},
      {"data": {"name": "regions"}, "transform": [{"filter": "datum.strand == 'R'"}],
       "mark": {"type": "text", "fontSize": 26, "lineBreak": "\n", "lineHeight": 28, "baseline": "middle", "align": "center", "color": "black"},
       "encoding": {"x": {"field": "labelAt", "type": "quantitative"}, "y": {"datum": 29, "type": "quantitative"}, "text": {"field": "label"}}}
    ]}
  ],
  "config": {
    "font": "Liberation Sans",
    "view": {"stroke": null},
    "axis": {"domainColor": "#8a8a8a", "tickColor": "#8a8a8a", "labelColor": "#555555", "labelFontSize": 23, "labelFont": "Liberation Sans", "tickSize": 8, "labelPadding": 5, "grid": false, "domainWidth": 1, "tickWidth": 1}
  }
}
